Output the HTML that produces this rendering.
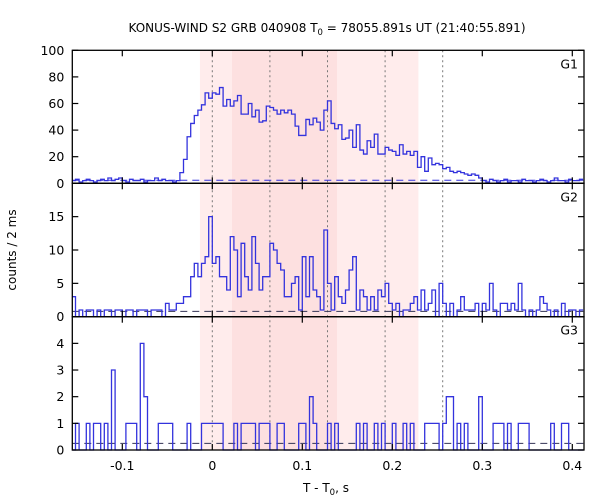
<!DOCTYPE html>
<html><head><meta charset="utf-8">
<style>
body{margin:0;background:#fff;}
svg{display:block;font-family:"DejaVu Sans","Liberation Sans",sans-serif;}
</style></head>
<body>
<svg id="chart" width="600" height="500" viewBox="0 0 600 500">
<text x="327" y="32" font-size="12" text-anchor="middle">KONUS-WIND S2 GRB 040908 T<tspan font-size="8.5" dy="3">0</tspan><tspan dy="-3"> = 78055.891s UT (21:40:55.891)</tspan></text>
<text transform="translate(16,250) rotate(-90)" font-size="12" text-anchor="middle">counts / 2 ms</text>
<text x="326" y="492" font-size="12" text-anchor="middle">T - T<tspan font-size="8.5" dy="3">0</tspan><tspan dy="-3">, s</tspan></text>
</svg>
<script>
const t0 = -0.156;
const binWidth = 0.004;
const g1Counts = [2,3,1,2,3,2,1,2,3,2,4,2,3,4,2,1,3,2,2,3,1,2,2,4,2,3,2,2,1,2,
8,18,35,45,51,55,59,68,64,68,67,72,58,63,58,62,66,52,52,60,50,55,46,47,58,57,55,52,55,53,55,52,43,36,36,48,44,49,46,40,55,62,
45,41,44,33,34,40,27,44,25,22,32,27,37,22,22,27,25,24,21,29,22,24,21,24,12,20,9,19,14,15,14,11,12,9,8,9,8,7,6,7,6,4,
2,1,3,2,1,2,3,1,2,2,1,3,2,2,1,2,3,2,1,2,4,2,2,1,3,2,2,3];
const g2Counts = [3,0,1,0,1,1,0,1,0,1,1,0,1,1,0,1,1,0,1,1,1,0,1,1,1,0,2,1,1,2,
2,3,3,6,8,6,8,9,15,8,9,6,6,4,12,10,3,11,6,4,12,8,4,6,6,11,10,8,7,3,3,5,6,1,9,3,9,4,3,1,13,
5,1,6,3,2,4,7,9,1,4,3,1,3,1,4,3,5,2,1,2,0,1,1,2,3,1,4,1,2,4,0,5,2,0,2,0,1,3,1,1,1,2,0,2,1,5,1,0,2,2,1,2,1,5,1,0,1,0,1,3,2,1,0,1,0,2,0,1,1,0,1];
const g3Counts = [0,1,0,0,1,0,1,1,0,1,0,3,0,0,0,1,1,1,0,4,
2,0,0,0,1,1,1,1,0,0,0,0,1,0,0,0,1,1,1,1,
1,1,0,0,0,1,0,1,1,1,1,0,1,1,1,0,0,1,1,0,
0,0,0,1,1,0,2,1,0,0,0,1,0,1,0,0,0,0,0,1,
0,1,0,0,1,0,1,0,0,1,0,0,1,0,1,0,0,0,1,1,
1,1,0,1,2,2,0,1,0,1,0,0,0,2,0,0,0,1,1,1,
0,1,0,0,1,1,1,0,0,0,0,0,0,1,0,0,1,1,0,0,0,0];
const backgrounds = [2.25, 0.8, 0.25];
const xTicks = [-0.1,0,0.1,0.2,0.3,0.4];
const xTickLabels = ["-0.1","0","0.1","0.2","0.3","0.4"];
const g1Ticks = [0,20,40,60,80,100];
const g2Ticks = [0,5,10,15];
const g3Ticks = [0,1,2,3,4];
const dottedTimes = [0,0.064,0.128,0.192,0.256];
const lightBand = [-0.0137,0.229];
const darkBand = [0.0219,0.1386];

const L=72.3,R=584;
const X = t => 212.3 + t*900;
const panels = [
 {name:'g1',label:'G1',top:50.3,bot:183.3,ymax:100,data:g1Counts,ticks:g1Ticks,bg:backgrounds[0],bgc:'#3333dd'},
 {name:'g2',label:'G2',top:183.3,bot:316.7,ymax:20,data:g2Counts,ticks:g2Ticks,bg:backgrounds[1],bgc:'#333355'},
 {name:'g3',label:'G3',top:316.7,bot:450,ymax:5,data:g3Counts,ticks:g3Ticks,bg:backgrounds[2],bgc:'#333355'}
];
const NS='http://www.w3.org/2000/svg';
const svg=document.getElementById('chart');
function mk(tag,attrs,parent){const e=document.createElementNS(NS,tag);for(const k in attrs)e.setAttribute(k,attrs[k]);(parent||svg).appendChild(e);return e;}

const lb=mk('rect',{x:X(lightBand[0]),y:50.3,width:X(lightBand[1])-X(lightBand[0]),height:399.7,fill:'#ffecec'});


const db=mk('rect',{x:X(darkBand[0]),y:50.3,width:X(darkBand[1])-X(darkBand[0]),height:399.7,fill:'#fde0e0'});


dottedTimes.forEach(t=>{
 const l=mk('line',{x1:X(t),x2:X(t),y1:50.3,y2:450,stroke:'#777','stroke-width':1,'stroke-dasharray':'2,3'});
 
 
});

panels.forEach(p=>{
 const Y=v=>p.bot-(v/p.ymax)*(p.bot-p.top);
 const g=mk('g',{});
 
 
 const bl=mk('line',{x1:L,x2:R,y1:Y(p.bg),y2:Y(p.bg),stroke:p.bgc,'stroke-width':1,'stroke-dasharray':'7,5'},g);
 
 
 let d='';
 p.data.forEach((v,i)=>{
  const xb=Math.min(R,X(t0+(i+1)*binWidth));
  d+=(i===0?'M'+L+','+Y(v):'V'+Y(v))+'H'+xb;
 });
 const path=mk('path',{d:d,fill:'none',stroke:'#3333dd','stroke-width':1.3},g);
 
 
 const fr=mk('rect',{x:L,y:p.top,width:R-L,height:p.bot-p.top,fill:'none',stroke:'#000','stroke-width':1.3},g);
 
 
 p.ticks.forEach(v=>{
  mk('line',{x1:L,x2:L+6,y1:Y(v),y2:Y(v),stroke:'#000','stroke-width':1.2},g);
  mk('line',{x1:R-6,x2:R,y1:Y(v),y2:Y(v),stroke:'#000','stroke-width':1.2},g);
  const tx=mk('text',{x:L-8,y:Y(v)+4.5,'font-size':12.5,'text-anchor':'end'},g);
  tx.textContent=v;
  
  
 });
 xTicks.forEach(t=>{
  mk('line',{x1:X(t),x2:X(t),y1:p.bot,y2:p.bot-6,stroke:'#000','stroke-width':1.2},g);
  mk('line',{x1:X(t),x2:X(t),y1:p.top,y2:p.top+6,stroke:'#000','stroke-width':1.2},g);
 });
 const lab=mk('text',{x:578,y:p.top+18,'font-size':12.5,'text-anchor':'end'},g);
 lab.textContent=p.label;
 
 
});
xTicks.forEach((t,i)=>{
 const tx=mk('text',{x:X(t),y:470,'font-size':12.5,'text-anchor':'middle'});
 tx.textContent=xTickLabels[i];
 
 
});
</script>
</body></html>
